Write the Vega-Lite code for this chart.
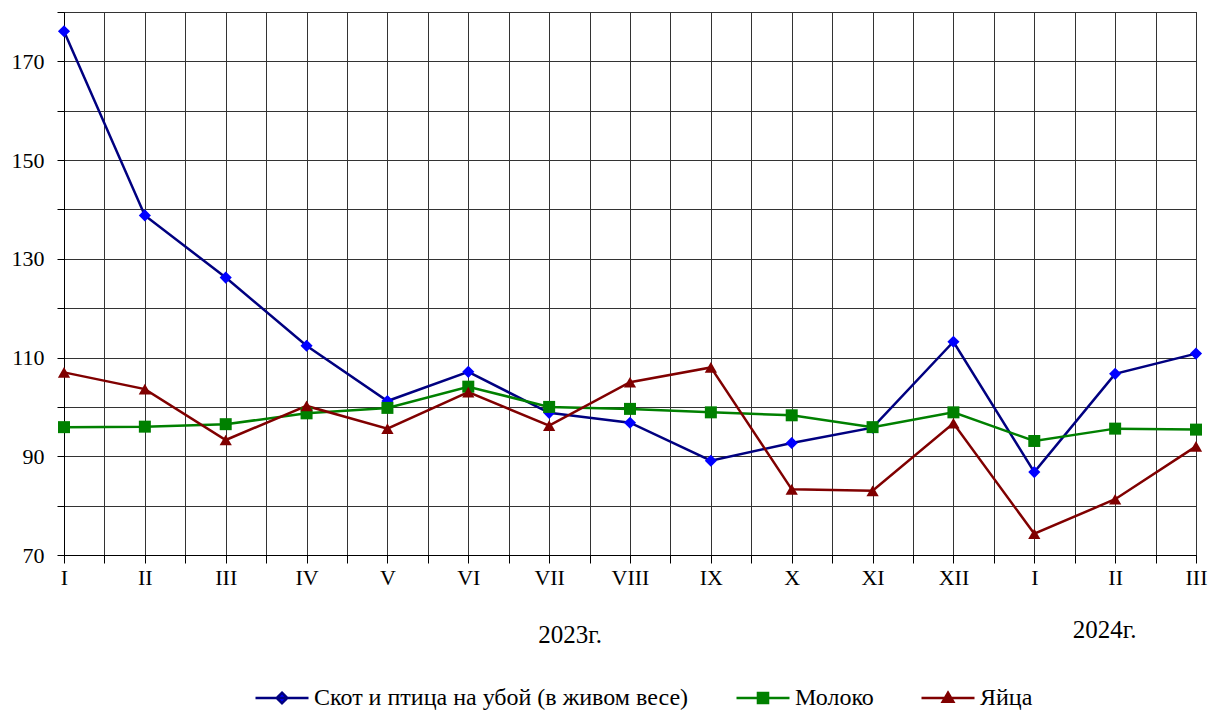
{
  "$schema": "https://vega.github.io/schema/vega-lite/v6.json",
  "width": 1132,
  "height": 543,
  "autosize": "none",
  "padding": {"left": 64, "top": 12, "right": 14, "bottom": 155},
  "background": "white",
  "config": {
    "font": "Liberation Serif",
    "view": {"stroke": "black", "strokeWidth": 1},
    "axis": {"labelFont": "Liberation Serif", "labelFontSize": 22, "labelColor": "black", "domainColor": "black", "tickColor": "black", "gridColor": "#333333", "gridWidth": 1, "gridOpacity": 1},
    "legend": {"labelFont": "Liberation Serif", "labelFontSize": 24, "labelColor": "black", "labelLimit": 0, "padding": 0}
  },
  "datasets": {
    "series": [
      {"i": 0, "s": "Скот и птица на убой (в живом весе)", "v": 176.1},
      {"i": 1, "s": "Скот и птица на убой (в живом весе)", "v": 138.8},
      {"i": 2, "s": "Скот и птица на убой (в живом весе)", "v": 126.2},
      {"i": 3, "s": "Скот и птица на убой (в живом весе)", "v": 112.4},
      {"i": 4, "s": "Скот и птица на убой (в живом весе)", "v": 101.2},
      {"i": 5, "s": "Скот и птица на убой (в живом весе)", "v": 107.1},
      {"i": 6, "s": "Скот и птица на убой (в живом весе)", "v": 98.8},
      {"i": 7, "s": "Скот и птица на убой (в живом весе)", "v": 96.8},
      {"i": 8, "s": "Скот и птица на убой (в живом весе)", "v": 89.1},
      {"i": 9, "s": "Скот и птица на убой (в живом весе)", "v": 92.7},
      {"i": 10, "s": "Скот и птица на убой (в живом весе)", "v": 95.8},
      {"i": 11, "s": "Скот и птица на убой (в живом весе)", "v": 113.2},
      {"i": 12, "s": "Скот и птица на убой (в живом весе)", "v": 86.8},
      {"i": 13, "s": "Скот и птица на убой (в живом весе)", "v": 106.7},
      {"i": 14, "s": "Скот и птица на убой (в живом весе)", "v": 110.8},
      {"i": 0, "s": "Молоко", "v": 95.9},
      {"i": 1, "s": "Молоко", "v": 96.0},
      {"i": 2, "s": "Молоко", "v": 96.5},
      {"i": 3, "s": "Молоко", "v": 98.7},
      {"i": 4, "s": "Молоко", "v": 99.8},
      {"i": 5, "s": "Молоко", "v": 104.1},
      {"i": 6, "s": "Молоко", "v": 100.0},
      {"i": 7, "s": "Молоко", "v": 99.6},
      {"i": 8, "s": "Молоко", "v": 98.9},
      {"i": 9, "s": "Молоко", "v": 98.3},
      {"i": 10, "s": "Молоко", "v": 95.9},
      {"i": 11, "s": "Молоко", "v": 98.9},
      {"i": 12, "s": "Молоко", "v": 93.1},
      {"i": 13, "s": "Молоко", "v": 95.6},
      {"i": 14, "s": "Молоко", "v": 95.4},
      {"i": 0, "s": "Яйца", "v": 107.0},
      {"i": 1, "s": "Яйца", "v": 103.6},
      {"i": 2, "s": "Яйца", "v": 93.3},
      {"i": 3, "s": "Яйца", "v": 100.2},
      {"i": 4, "s": "Яйца", "v": 95.6},
      {"i": 5, "s": "Яйца", "v": 103.0},
      {"i": 6, "s": "Яйца", "v": 96.2},
      {"i": 7, "s": "Яйца", "v": 105.0},
      {"i": 8, "s": "Яйца", "v": 108.0},
      {"i": 9, "s": "Яйца", "v": 83.3},
      {"i": 10, "s": "Яйца", "v": 83.0},
      {"i": 11, "s": "Яйца", "v": 96.7},
      {"i": 12, "s": "Яйца", "v": 74.3},
      {"i": 13, "s": "Яйца", "v": 81.3},
      {"i": 14, "s": "Яйца", "v": 92.0}
    ],
    "years": [
      {"i": 6.26, "y": 53.8, "t": "2023г."},
      {"i": 12.87, "y": 54.8, "t": "2024г."}
    ]
  },
  "layer": [
    {
      "data": {"name": "series"},
      "mark": {"type": "line", "strokeWidth": 2.5},
      "encoding": {
        "x": {
          "field": "i", "type": "quantitative",
          "scale": {"domain": [0, 14], "nice": false, "zero": false},
          "axis": {
            "title": null,
            "values": [0, 0.5, 1, 1.5, 2, 2.5, 3, 3.5, 4, 4.5, 5, 5.5, 6, 6.5, 7, 7.5, 8, 8.5, 9, 9.5, 10, 10.5, 11, 11.5, 12, 12.5, 13, 13.5, 14],
            "labelExpr": "datum.value % 1 === 0 ? ['I','II','III','IV','V','VI','VII','VIII','IX','X','XI','XII','I','II','III'][datum.value] : ''",
            "tickSize": 8,
            "labelPadding": 4,
            "labelFlush": false,
            "labelOverlap": false,
            "grid": true,
            "encode": {
              "ticks": {"update": {"opacity": {"signal": "datum.value % 1 === 0 ? 1 : 0"}}}
            }
          }
        },
        "y": {
          "field": "v", "type": "quantitative",
          "scale": {"domain": [70, 180], "nice": false, "zero": false},
          "axis": {
            "title": null,
            "values": [70, 80, 90, 100, 110, 120, 130, 140, 150, 160, 170, 180],
            "labelExpr": "datum.value % 20 === 10 ? datum.label : ''",
            "tickSize": 7,
            "labelPadding": 13,
            "labelOverlap": false,
            "grid": true,
            "encode": {
              "ticks": {"update": {"opacity": {"signal": "datum.value % 20 === 10 ? 1 : 0"}}}
            }
          }
        },
        "stroke": {
          "field": "s", "type": "nominal",
          "scale": {"domain": ["Скот и птица на убой (в живом весе)", "Молоко", "Яйца"], "range": ["#000080", "#008000", "#800000"]},
          "legend": {
            "title": null,
            "orient": "none",
            "legendX": 190,
            "legendY": 658,
            "direction": "horizontal",
            "columnPadding": 42,
            "labelOffset": 4,
            "symbolSize": 2809,
            "symbolStrokeWidth": 2.5,
            "encode": {
              "symbols": {
                "update": {
                  "shape": {"signal": "datum.value === 'Молоко' ? 'M-1,0L1,0M-0.19,-0.19L0.19,-0.19L0.19,0.19L-0.19,0.19Z' : (datum.value === 'Яйца' ? 'M-1,0L1,0M0,-0.2L0.2,0.14L-0.2,0.14Z' : 'M-1,0L1,0M0,-0.2L0.2,0L0,0.2L-0.2,0Z')"},
                  "fill": {"signal": "datum.value === 'Молоко' ? '#008000' : (datum.value === 'Яйца' ? '#800000' : '#0000FF')"},
                  "fillOpacity": {"value": 1}
                }
              }
            }
          }
        }
      }
    },
    {
      "data": {"name": "series"},
      "transform": [{"calculate": "datum.s", "as": "k"}],
      "mark": {"type": "point", "filled": true, "opacity": 1, "strokeWidth": 0},
      "encoding": {
        "x": {"field": "i", "type": "quantitative"},
        "y": {"field": "v", "type": "quantitative"},
        "fill": {
          "field": "k", "type": "nominal",
          "scale": {"range": ["#008000", "#0000FF", "#800000"]},
          "legend": null
        },
        "shape": {
          "field": "k", "type": "nominal",
          "scale": {"range": ["square", "diamond", "triangle-up"]},
          "legend": null
        },
        "size": {
          "field": "k", "type": "nominal",
          "scale": {"range": [144, 150, 130]},
          "legend": null
        }
      }
    },
    {
      "data": {"name": "years"},
      "mark": {"type": "text", "clip": false, "fontSize": 25, "font": "Liberation Serif", "color": "black"},
      "encoding": {
        "x": {"field": "i", "type": "quantitative"},
        "y": {"field": "y", "type": "quantitative"},
        "text": {"field": "t"}
      }
    }
  ]
}
